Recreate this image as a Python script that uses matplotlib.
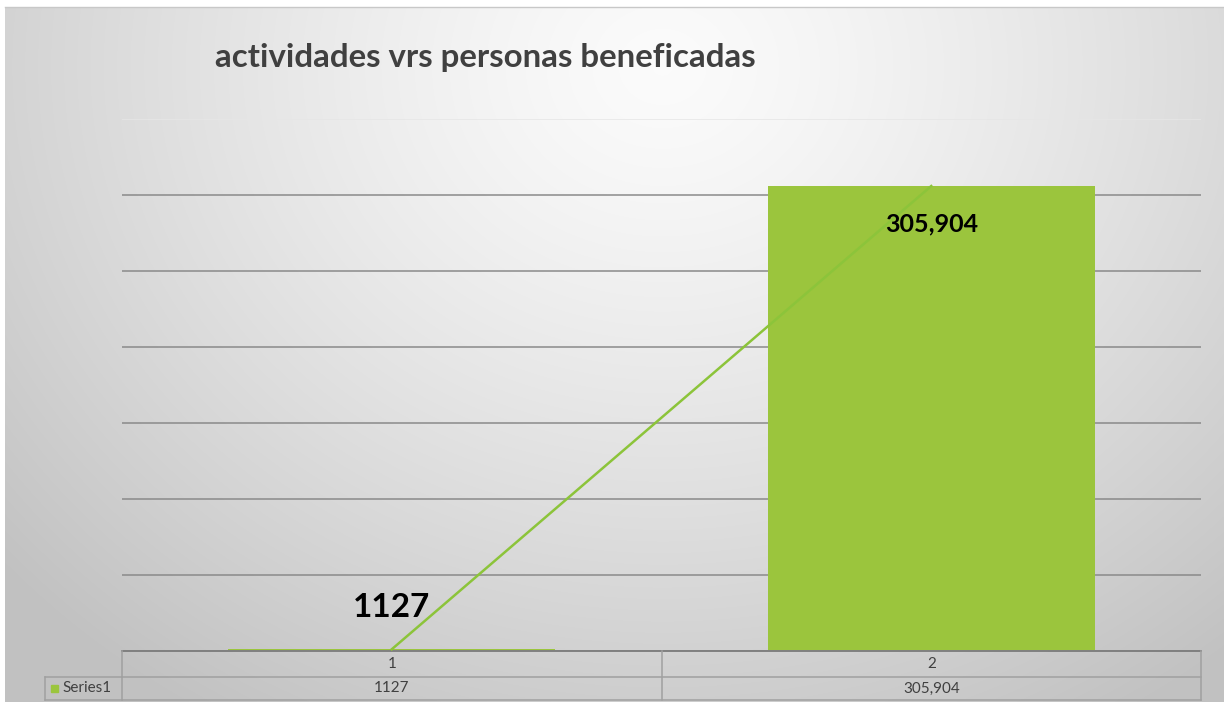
import numpy as np
import matplotlib
matplotlib.use("Agg")
import matplotlib.pyplot as plt
from matplotlib.transforms import blended_transform_factory

# ---- data ----
categories = ["1", "2"]
values = [1127, 305904]
value_labels = ["1127", "305,904"]
series_name = "Series1"
title = "actividades vrs personas beneficadas"

W, H = 1224, 702
fig = plt.figure(figsize=(W / 100, H / 100), dpi=100)
plt.rcParams['font.family'] = ['Lato', 'DejaVu Sans']

# background gradient
bg = fig.add_axes([5 / W, 0, 1 - 5 / W, 1 - 7 / H])
yy, xx = np.mgrid[0:H, 0:W]
cx, cy = 660, 60
d = np.sqrt(((xx - cx) / 800.0) ** 2 + ((yy - cy) / 700.0) ** 2)
val = 0.985 - 0.2 * np.clip(d, 0, 1.2) ** 1.3
val = np.clip(val, 0.76, 1.0)
img = np.dstack([val, val, val])
bg.imshow(img, aspect='auto', extent=[0, 1, 0, 1])
bg.set_axis_off()
fig.add_artist(plt.Line2D([5 / W, 1], [1 - 7 / H, 1 - 7 / H], transform=fig.transFigure,
                          color='#c8c8c8', lw=1))

# main axes
left, right = 122 / W, 1201 / W
bottom, top = 1 - 651 / H, 1 - 119 / H
ax = fig.add_axes([left, bottom, right - left, top - bottom])
ax.patch.set_alpha(0)
x = np.arange(1, len(categories) + 1)
green = '#9bc53d'
ax.bar(x, values, width=0.606, color=green, zorder=2)
ax.plot(x, values, color='#8cc43a', lw=1.8, zorder=3)
ax.set_xlim(0.5, len(categories) + 0.5)
ax.set_ylim(0, 350000)
ax.set_yticks(np.arange(0, 350001, 50000))
ax.yaxis.grid(True, color='#8a8a8a', lw=1.1, zorder=0)
gl = ax.get_ygridlines()
gl[-1].set_color('#e6e6e6')
ax.set_axisbelow(True)
ax.tick_params(left=False, bottom=False, labelleft=False, labelbottom=False)
for s in ax.spines.values():
    s.set_visible(False)

# data labels
ax.annotate(value_labels[0], (x[0], values[0]), xytext=(0, 20), textcoords='offset points',
            ha='center', va='bottom', fontsize=24, fontweight='bold', color='black', zorder=4)
ax.annotate(value_labels[1], (x[1], values[1]), xytext=(0, -19), textcoords='offset points',
            ha='center', va='top', fontsize=18, fontweight='bold', color='black', zorder=4)

# title
fig.text(215 / W, 1 - 57 / H, title, ha='left', va='center', fontsize=23.8,
         fontweight='bold', color='#404040')

# data table
tc = '#a0a0a0'
trans = blended_transform_factory(ax.transData, fig.transFigure)
y0, y1, y2 = 1 - 651 / H, 1 - 677 / H, 1 - 700 / H
xb = [0.5 + i for i in range(len(categories) + 1)]
ax.plot([xb[0], xb[-1]], [y0, y0], transform=trans, color='#808080', lw=1.4, clip_on=False)
for yv in (y1, y2):
    ax.plot([xb[0], xb[-1]], [yv, yv], transform=trans, color=tc, lw=1.1, clip_on=False)
for xv in xb:
    ax.plot([xv, xv], [y0, y2], transform=trans, color=tc, lw=1.1, clip_on=False)
lx = 45 / W
fig.add_artist(plt.Line2D([lx, left], [y1, y1], transform=fig.transFigure, color=tc, lw=1.1))
fig.add_artist(plt.Line2D([lx, left], [y2, y2], transform=fig.transFigure, color=tc, lw=1.1))
fig.add_artist(plt.Line2D([lx, lx], [y1, y2], transform=fig.transFigure, color=tc, lw=1.1))
for xi, c, vl in zip(x, categories, value_labels):
    ax.text(xi, (y0 + y1) / 2, c, transform=trans, ha='center', va='center', fontsize=11, color='#404040')
    ax.text(xi, (y1 + y2) / 2, vl, transform=trans, ha='center', va='center', fontsize=11, color='#404040')
fig.patches.append(plt.Rectangle((51 / W, 1 - 692 / H), 7 / W, 7 / H, transform=fig.transFigure,
                                 color=green, figure=fig))
fig.text(62 / W, (y1 + y2) / 2, series_name, ha='left', va='center', fontsize=11, color='#404040')

fig.savefig('out.png', dpi=100)
